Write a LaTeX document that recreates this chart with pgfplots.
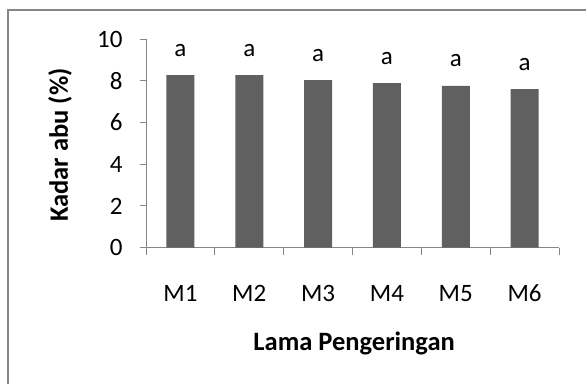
\documentclass[border=0pt]{standalone}
\usepackage{pgfplots}
\pgfplotsset{compat=1.18}
\usepackage{fontspec}
\setmainfont{Carlito}
\definecolor{barc}{RGB}{96,96,96}
\definecolor{axc}{RGB}{134,134,134}
\begin{document}
\begin{tikzpicture}[x=1pt,y=1pt]
\useasboundingbox (0,0) rectangle (586,384);
\draw[color=axc, line width=2pt] (7.5,0) -- (7.5,374) -- (587,374);
\begin{axis}[
  at={(146pt,136.3pt)}, anchor=south west,
  scale only axis, width=413pt, height=208.7pt,
  xmin=-0.5, xmax=5.5, ymin=0, ymax=10,
  ytick={0,2,4,6,8,10},
  xtick={0,1,2,3,4,5}, xticklabels={M1,M2,M3,M4,M5,M6},
  minor xtick={-0.5,0.5,1.5,2.5,3.5,4.5,5.5},
  axis x line*=bottom, axis y line*=left,
  axis line style={axc, line width=1pt, -},
  tick align=outside,
  major tick length=6pt, minor tick length=7pt,
  major x tick style={draw=none},
  minor x tick style={axc, line width=1pt},
  ytick style={axc, line width=1pt},
  /pgf/number format/assume math mode=true,
  tick label style={font=\fontsize{25}{28}\selectfont, text=black},
  xticklabel style={anchor=base, yshift=-47.5pt},
  yticklabel style={xshift=-14pt},
  ylabel={Kadar abu (\%)},
  xlabel={Lama Pengeringan},
  every axis y label/.style={at={(axis description cs:-0.208,0.492)}, rotate=90, anchor=center, font=\fontsize{26.5}{30}\selectfont\bfseries},
  every axis x label/.style={at={(axis description cs:0.504,-0.457)}, anchor=center, font=\fontsize{26.5}{30}\selectfont\bfseries},
  nodes near coords={a},
  every node near coord/.append style={anchor=base, yshift=19pt, font=\fontsize{25}{28}\selectfont, text=black},
]
\addplot[ybar, fill=barc, draw=none, bar width=28pt] coordinates {
  (0,8.27) (1,8.27) (2,8.03) (3,7.89) (4,7.75) (5,7.60)
};
\end{axis}
\end{tikzpicture}
\end{document}
